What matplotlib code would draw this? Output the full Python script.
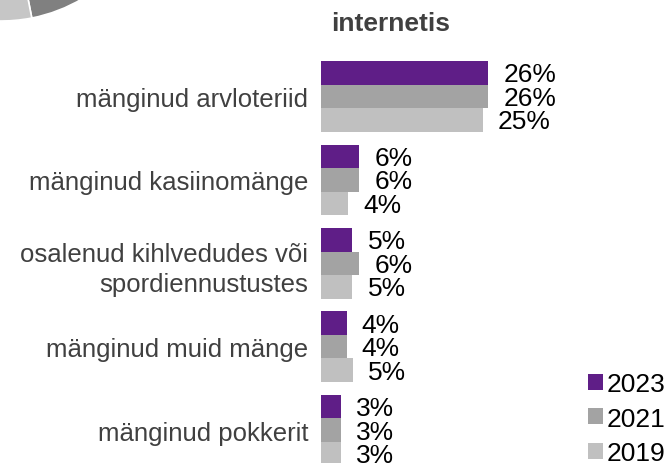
import matplotlib.pyplot as plt
from matplotlib.patches import Wedge

plt.rcParams['font.family'] = ['Liberation Sans', 'DejaVu Sans']

# data
categories = ['mänginud arvloteriid', 'mänginud kasiinomänge',
              'osalenud kihlvedudes või\nspordiennustustes',
              'mänginud muid mänge', 'mänginud pokkerit']
years = ['2023', '2021', '2019']
v2023 = [26.0, 6.0, 4.9, 4.0, 3.1]
v2021 = [26.0, 6.0, 6.0, 4.0, 3.1]
v2019 = [25.1, 4.2, 4.9, 5.0, 3.1]
colors = ['#5f1e87', '#a3a3a3', '#c0c0c0']

W, H = 670, 464
fig = plt.figure(figsize=(W / 100, H / 100), dpi=100)

# pie remnant in the top-left corner
bg = fig.add_axes([0, 0, 1, 1], zorder=0)
bg.set_xlim(0, W)
bg.set_ylim(0, H)
bg.axis('off')
bg.add_patch(Wedge((1.2, 601), 159, -78.9, 0, facecolor='#808080',
                   edgecolor='white', linewidth=1.2))
bg.add_patch(Wedge((1.2, 601), 159, -180, -78.9, facecolor='#c6c6c6',
                   edgecolor='white', linewidth=1.2))

# bar chart
ax = fig.add_axes([320.7 / W, 0, 322.5 / W, 1], zorder=1)
ax.patch.set_alpha(0)
h = 0.282
series = [v2023, v2021, v2019]
for k, vals in enumerate(series):
    pos = [i + (k - 1) * h for i in range(len(categories))]
    bars = ax.barh(pos, vals, height=h, color=colors[k], label=years[k])
    for b, v in zip(bars, vals):
        ax.annotate('%d%%' % round(v), (b.get_width(), b.get_y() + h / 2),
                    xytext=(11, -1), textcoords='offset points',
                    ha='left', va='center', fontsize=19, color='black')

ax.set_xlim(0, 50)
ax.set_ylim(4.394, -1.169)
ax.set_yticks(range(len(categories)))
ax.set_yticklabels(categories, fontsize=18.5, color='#404040',
                   linespacing=1.35)
ax.tick_params(axis='y', length=0, pad=9)
ax.set_xticks([])
for s in ax.spines.values():
    s.set_visible(False)

fig.text(391 / W, 1 - 24 / H, 'internetis', fontsize=19, fontweight='bold',
         color='#404040', ha='center', va='center')

fig.legend(loc='upper left', bbox_to_anchor=(588 / W, 1 - 373 / H),
           frameon=False, fontsize=19, handlelength=0.55, handleheight=0.55,
           handletextpad=0.15, labelspacing=0.4, borderpad=0,
           borderaxespad=0)

fig.savefig('out.png', dpi=100)
